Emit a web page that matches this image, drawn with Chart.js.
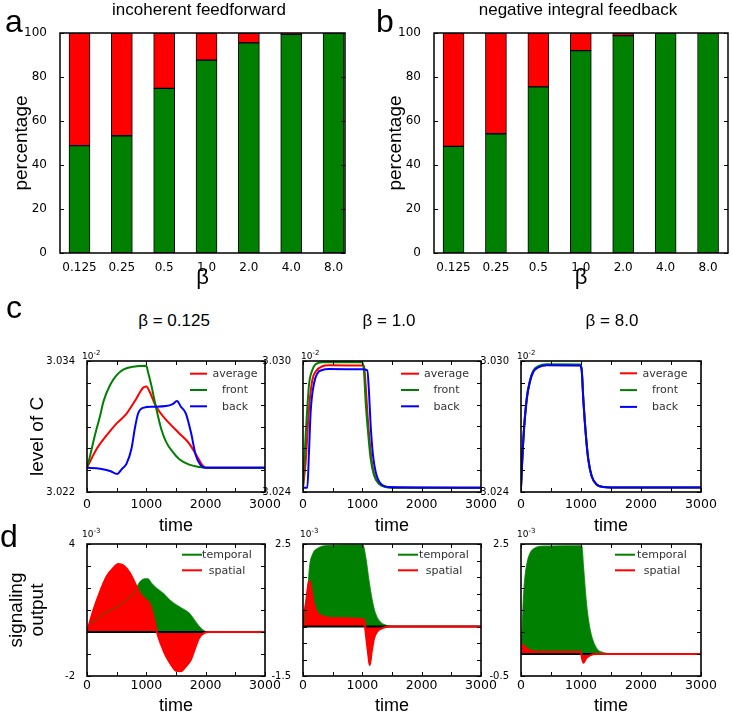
<!DOCTYPE html>
<html>
<head>
<meta charset="utf-8">
<script src="https://cdn.jsdelivr.net/npm/chart.js@4.4.0/dist/chart.umd.min.js"></script>
<style>
  body { margin: 0; background: #fff; }
  #fig { position: relative; width: 732px; height: 717px; overflow: hidden; background: #fff; }
  #fig canvas { position: absolute; }
  .txt { position: absolute; white-space: nowrap; color: #000; font-family: "Liberation Sans", Arial, sans-serif; }
</style>
</head>
<body>
<div id="fig"></div>
<script>
// ---------- panels a / b : percentage of outcomes per beta ----------
const betaLabels = ['0.125', '0.25', '0.5', '1.0', '2.0', '4.0', '8.0'];
const ffGreen = [48.8, 53.3, 74.8, 87.7, 95.5, 99.4, 100];
const ffRed   = [51.2, 46.7, 25.2, 12.3, 4.5, 0.6, 0];
const nfGreen = [48.5, 54.2, 75.5, 92.0, 98.8, 100, 100];
const nfRed   = [51.5, 45.8, 24.5, 8.0, 1.2, 0, 0];
const percentTicks = [0, 100];

// ---------- panel c : level of C (x 10^-2) ----------
const timeTickLabels = [0, 1000, 2000, 3000];
const levelRangeC1 = [3.022, 3.034];
const levelRangeC2 = [3.024, 3.030];
const levelRangeC3 = [3.024, 3.030];

// beta = 0.125
const timeC1Avg = [0, 167, 333, 500, 667, 833, 944, 1000, 1056, 1139, 1222, 1389, 1556, 1722, 1861, 1944, 2000, 3000];
const c1Avg = [3.02423, 3.02598, 3.02720, 3.02828, 3.02919, 3.03057, 3.03155, 3.03167, 3.03118, 3.03011, 3.02935, 3.02828, 3.02736, 3.02644, 3.02521, 3.02445, 3.02423, 3.02423];
const timeC1Front = [0, 56, 111, 167, 222, 278, 389, 500, 611, 778, 1000, 1028, 1083, 1167, 1250, 1333, 1444, 1556, 1722, 1889, 2000, 3000];
const c1Front = [3.02423, 3.0254, 3.0267, 3.0279, 3.0290, 3.0303, 3.0318, 3.0327, 3.0332, 3.03348, 3.03357, 3.0330, 3.0318, 3.02965, 3.0278, 3.02659, 3.02567, 3.0250, 3.02451, 3.0243, 3.02423, 3.02423];
const timeC1Back = [0, 222, 389, 511, 583, 667, 750, 806, 861, 944, 1111, 1333, 1444, 1517, 1583, 1667, 1750, 1833, 1917, 2000, 3000];
const c1Back = [3.02423, 3.02414, 3.02393, 3.02365, 3.02408, 3.02460, 3.02598, 3.02782, 3.02919, 3.02971, 3.02981, 3.02987, 3.03005, 3.03033, 3.02981, 3.02919, 3.02751, 3.02537, 3.02445, 3.02423, 3.02423];

// beta = 1.0
const timeC2Avg = [0, 45, 101, 157, 213, 326, 438, 1000, 1028, 1056, 1084, 1124, 1169, 1225, 1337, 1506, 3000];
const c2Avg = [3.02420, 3.02538, 3.02783, 3.02913, 3.02951, 3.02976, 3.02980, 3.02979, 3.02976, 3.02890, 3.02767, 3.02630, 3.02522, 3.02461, 3.02431, 3.02420, 3.02420];
const timeC2Front = [0, 45, 101, 157, 213, 326, 1000, 1028, 1056, 1101, 1140, 1197, 1281, 1393, 1506, 3000];
const c2Front = [3.02420, 3.02660, 3.02890, 3.02959, 3.02985, 3.02994, 3.02995, 3.02951, 3.02813, 3.02660, 3.02553, 3.02477, 3.02438, 3.02423, 3.02420, 3.02420];
const timeC2Back = [0, 73, 101, 129, 185, 242, 326, 438, 1000, 1084, 1112, 1140, 1180, 1225, 1309, 1449, 3000];
const c2Back = [3.02420, 3.02420, 3.02584, 3.02767, 3.02897, 3.02943, 3.02959, 3.02963, 3.02962, 3.02957, 3.02859, 3.02706, 3.02568, 3.02492, 3.02438, 3.02423, 3.02420];

// beta = 8.0
const timeC3 = [0, 39, 95, 150, 206, 289, 428, 983, 1011, 1039, 1083, 1122, 1178, 1261, 1372, 1500, 3000];
const c3Avg   = [3.02421, 3.02642, 3.02826, 3.02909, 3.02954, 3.02973, 3.02982, 3.02981, 3.02961, 3.02823, 3.02655, 3.02548, 3.02472, 3.02434, 3.02423, 3.02421, 3.02421];
const c3Front = [3.02421, 3.02645, 3.02830, 3.02912, 3.02956, 3.02976, 3.02985, 3.02984, 3.02963, 3.02825, 3.02656, 3.02549, 3.02473, 3.02434, 3.02423, 3.02421, 3.02421];
const c3Back  = [3.02421, 3.02639, 3.02822, 3.02906, 3.02951, 3.02971, 3.02980, 3.02979, 3.02959, 3.02822, 3.02654, 3.02548, 3.02472, 3.02434, 3.02423, 3.02421, 3.02421];

// ---------- panel d : signaling output (x 10^-3) ----------
const signalRangeD1 = [-2, 4];
const signalRangeD2 = [-1.5, 2.5];
const signalRangeD3 = [-0.5, 2.5];
const zeroT = [0, 3000];
const zeroV = [0, 0];

const timeD1Temporal = [0, 40, 111, 222, 333, 444, 556, 667, 778, 833, 889, 972, 1028, 1083, 1167, 1278, 1389, 1500, 1611, 1722, 1806, 1889, 1972, 2056, 3000];
const d1Temporal = [0, 0.30, 0.48, 0.71, 0.91, 1.06, 1.24, 1.47, 1.73, 2.00, 2.27, 2.42, 2.42, 2.23, 2.00, 1.77, 1.47, 1.24, 1.06, 0.86, 0.56, 0.26, 0.06, 0, 0];
const timeD1Spatial = [0, 111, 222, 333, 444, 528, 611, 722, 806, 889, 972, 1056, 1111, 1178, 1250, 1333, 1417, 1500, 1583, 1667, 1750, 1822, 1889, 1972, 2056, 3000];
const d1Spatial = [0, 1.02, 1.85, 2.53, 2.91, 3.09, 3.03, 2.68, 2.23, 1.77, 1.50, 1.27, 0.80, 0, -0.58, -1.11, -1.48, -1.76, -1.78, -1.56, -1.26, -0.73, -0.27, -0.05, 0, 0];

const timeD2Temporal = [0, 56, 111, 167, 250, 389, 1011, 1056, 1111, 1167, 1222, 1306, 1417, 1500, 3000];
const d2Temporal = [0, 0.49, 1.81, 2.21, 2.37, 2.45, 2.47, 2.11, 1.40, 0.79, 0.39, 0.13, 0.03, 0, 0];
const timeD2Spatial = [0, 45, 90, 112, 146, 185, 242, 326, 438, 1000, 1028, 1045, 1067, 1101, 1124, 1157, 1197, 1253, 1337, 1450, 3000];
const d2Spatial = [0.25, 0.66, 1.28, 1.38, 1.07, 0.66, 0.41, 0.31, 0.26, 0.23, 0.20, 0, -0.36, -0.87, -1.17, -0.77, -0.36, -0.15, -0.05, 0, 0];

const timeD3Temporal = [0, 11, 39, 67, 106, 150, 234, 373, 1013, 1041, 1085, 1124, 1180, 1263, 1374, 1500, 3000];
const d3Temporal = [0, 0.31, 1.23, 1.76, 2.10, 2.29, 2.41, 2.45, 2.46, 1.99, 1.23, 0.77, 0.39, 0.12, 0.03, 0, 0];
const timeD3Spatial = [0, 39, 95, 178, 317, 996, 1013, 1041, 1085, 1152, 1250, 3000];
const d3Spatial = [0.22, 0.20, 0.12, 0.07, 0.05, 0.05, -0.07, -0.20, -0.10, -0.03, 0, 0];

// ---------- drawing ----------
const GREEN = '#008000';
const RED = '#ff0000';
const BLUE = '#0000ff';
const TICK_FONT = '"DejaVu Sans", sans-serif';
const LABEL_FONT = '"Liberation Sans", Arial, sans-serif';

const fig = document.getElementById('fig');
const pts = (t, v) => t.map((x, i) => ({ x, y: v[i] }));

function addCanvas(box) {
    const c = document.createElement('canvas');
    c.width = box.w;
    c.height = box.h;
    c.style.left = box.x + 'px';
    c.style.top = box.y + 'px';
    fig.appendChild(c);
    return c;
}

function addText(html, x, base, size, opts = {}) {
    const d = document.createElement('div');
    d.className = 'txt';
    d.innerHTML = html;
    d.style.fontSize = size + 'px';
    d.style.lineHeight = size + 'px';
    d.style.left = x + 'px';
    d.style.top = Math.round(base - 0.85 * size) + 'px';
    if (opts.center) d.style.transform = 'translateX(-50%)';
    if (opts.family) d.style.fontFamily = opts.family;
    fig.appendChild(d);
    return d;
}

// frame + inward tick marks, matplotlib style
const framePlugin = {
    id: 'frame',
    afterDatasetsDraw(chart, args, opts) {
        const { ctx, chartArea: a, scales } = chart;
        const len = opts.tickLen || 4;
        ctx.save();
        ctx.strokeStyle = '#000';
        ctx.lineWidth = 1;
        ctx.beginPath();
        if (opts.xTicks) {
            scales.x.ticks.forEach(t => {
                const px = Math.round(scales.x.getPixelForValue(t.value)) + 0.5;
                ctx.moveTo(px, a.bottom); ctx.lineTo(px, a.bottom - len);
                ctx.moveTo(px, a.top); ctx.lineTo(px, a.top + len);
            });
        }
        scales.y.ticks.forEach(t => {
            const py = Math.round(scales.y.getPixelForValue(t.value)) + 0.5;
            ctx.moveTo(a.left, py); ctx.lineTo(a.left + len, py);
            ctx.moveTo(a.right, py); ctx.lineTo(a.right - len, py);
        });
        ctx.stroke();
        ctx.lineWidth = opts.frameWidth || 1.5;
        ctx.strokeRect(a.left, a.top, a.right - a.left, a.bottom - a.top);
        ctx.restore();
    }
};

// legend drawn inside the plot, no box
const innerLegend = {
    id: 'innerLegend',
    afterDraw(chart, args, opts) {
        if (!opts.items) return;
        const { ctx, chartArea: a } = chart;
        ctx.save();
        ctx.font = '11px ' + TICK_FONT;
        ctx.textAlign = 'center';
        ctx.textBaseline = 'middle';
        opts.items.forEach((it, i) => {
            const y = a.top + opts.top + i * opts.gap;
            ctx.strokeStyle = it.color;
            ctx.lineWidth = 2;
            ctx.beginPath();
            ctx.moveTo(a.right - opts.lineFrom, y);
            ctx.lineTo(a.right - opts.lineTo, y);
            ctx.stroke();
            ctx.fillStyle = '#333';
            ctx.fillText(it.label, a.right - opts.textAt, y + 0.5);
        });
        ctx.restore();
    }
};

function baseOptions(box, plot) {
    return {
        responsive: false,
        animation: false,
        devicePixelRatio: 1,
        events: [],
        layout: {
            autoPadding: false,
            padding: { left: 0, top: plot.t - box.y, right: box.x + box.w - plot.r, bottom: 0 }
        },
        plugins: { legend: { display: false }, tooltip: { enabled: false } }
    };
}

function barChart(box, plot, green, red, xRange, yTitlePad) {
    const opts = baseOptions(box, plot);
    opts.plugins.frame = { xTicks: false, tickLen: 4 };
    opts.scales = {
        x: {
            type: 'linear', min: xRange[0], max: xRange[1], offset: false, stacked: true,
            afterFit: s => { s.height = box.y + box.h - plot.b; },
            afterBuildTicks: s => { s.ticks = betaLabels.map((_, i) => ({ value: i })); },
            grid: { display: false }, border: { display: false },
            ticks: {
                autoSkip: false, maxRotation: 0, padding: 0, color: '#000',
                font: { family: TICK_FONT, size: 12 },
                callback: v => betaLabels[v]
            },
            title: { display: true, text: 'β', color: '#000', font: { family: LABEL_FONT, size: 22 }, padding: { top: 0, bottom: -1 } }
        },
        y: {
            min: percentTicks[0], max: percentTicks[1], stacked: true,
            afterFit: s => { s.width = plot.l - box.x; },
            grid: { display: false }, border: { display: false },
            ticks: { stepSize: 20, padding: 5, color: '#000', font: { family: TICK_FONT, size: 12 } },
            title: { display: true, text: 'percentage', color: '#000', font: { family: LABEL_FONT, size: 19 }, padding: { top: yTitlePad, bottom: 0 } }
        }
    };
    const bar = (vals, color) => ({
        data: vals.map((v, i) => ({ x: i, y: v })),
        backgroundColor: color, borderColor: '#000', borderWidth: 1,
        borderSkipped: false, barThickness: 21
    });
    new Chart(addCanvas(box), {
        type: 'bar',
        data: { datasets: [bar(green, GREEN), bar(red, RED)] },
        options: opts,
        plugins: [framePlugin]
    });
}

function timeAxis(box, plot, pad) {
    return {
        type: 'linear', min: 0, max: 3000,
        afterFit: s => { s.height = box.y + box.h - plot.b; },
        grid: { display: false }, border: { display: false },
        ticks: {
            stepSize: 500, autoSkip: false, maxRotation: 0, padding: pad, color: '#000',
            font: { family: TICK_FONT, size: 12.5 },
            callback: v => timeTickLabels.includes(v) ? String(v) : ''
        },
        title: { display: true, text: 'time', color: '#000', font: { family: LABEL_FONT, size: 18 }, padding: { top: 0, bottom: 0 } }
    };
}

function valueAxis(box, plot, range, step, fmt, title) {
    return {
        type: 'linear', min: range[0], max: range[1],
        afterFit: s => { s.width = plot.l - box.x; },
        grid: { display: false }, border: { display: false },
        ticks: {
            stepSize: step, autoSkip: false, padding: 4, color: '#000',
            font: { family: TICK_FONT, size: 10 },
            callback: (v, i, ticks) => (i === 0 || i === ticks.length - 1) ? fmt(v) : ''
        },
        title: title || { display: false }
    };
}

function levelChart(box, plot, series, range, step, legend) {
    const opts = baseOptions(box, plot);
    opts.plugins.frame = { xTicks: true, tickLen: 4, frameWidth: 1.6 };
    opts.plugins.innerLegend = legend;
    opts.scales = {
        x: timeAxis(box, plot, -3),
        y: valueAxis(box, plot, range, step, v => v.toFixed(3))
    };
    const datasets = series.map((s, k) => ({
        data: pts(s.t, s.v), borderColor: s.color, borderWidth: 2,
        pointRadius: 0, cubicInterpolationMode: 'monotone', fill: false, order: 3 - k
    }));
    new Chart(addCanvas(box), { type: 'line', data: { datasets }, options: opts, plugins: [framePlugin, innerLegend] });
}

function signalChart(box, plot, temporal, spatial, range, step, legend, yTitle) {
    const opts = baseOptions(box, plot);
    opts.plugins.frame = { xTicks: true, tickLen: 4, frameWidth: 1.6 };
    opts.plugins.innerLegend = legend;
    opts.scales = {
        x: timeAxis(box, plot, -6),
        y: valueAxis(box, plot, range, step, v => String(v), yTitle)
    };
    const common = { pointRadius: 0, cubicInterpolationMode: 'monotone' };
    const datasets = [
        { ...common, data: pts(spatial.t, spatial.v), borderColor: RED, borderWidth: 2, fill: false, order: 1 },
        { ...common, data: pts(zeroT, zeroV), borderColor: '#000', borderWidth: 2, fill: false, order: 2 },
        { ...common, data: pts(temporal.t, temporal.v), borderColor: 'rgba(0,128,0,0.55)', borderWidth: 1.2, fill: false, order: 3 },
        { ...common, data: pts(spatial.t, spatial.v), borderColor: RED, borderWidth: 0.5, backgroundColor: RED, fill: 'origin', order: 4 },
        { ...common, data: pts(temporal.t, temporal.v), borderColor: GREEN, borderWidth: 0.5, backgroundColor: GREEN, fill: 'origin', order: 5 }
    ];
    new Chart(addCanvas(box), { type: 'line', data: { datasets }, options: opts, plugins: [framePlugin, innerLegend] });
}

// panels a, b
barChart({ x: 0, y: 0, w: 352, h: 290 }, { l: 60, t: 33, r: 345, b: 253 }, ffGreen, ffRed, [-0.46, 6.27], 10.5);
barChart({ x: 366, y: 0, w: 366, h: 290 }, { l: 434, t: 33, r: 728, b: 253 }, nfGreen, nfRed, [-0.46, 6.47], 18.6);

// panel c
const cItems = [{ label: 'average', color: RED }, { label: 'front', color: GREEN }, { label: 'back', color: BLUE }];
levelChart({ x: 0, y: 345, w: 292, h: 192 }, { l: 87, t: 361, r: 265, b: 492 },
    [{ t: timeC1Avg, v: c1Avg, color: RED }, { t: timeC1Front, v: c1Front, color: GREEN }, { t: timeC1Back, v: c1Back, color: BLUE }],
    levelRangeC1, 0.002, { items: cItems, top: 12.7, gap: 16.3, lineFrom: 75, lineTo: 58, textAt: 30 });
levelChart({ x: 255, y: 345, w: 250, h: 192 }, { l: 303, t: 361, r: 481, b: 492 },
    [{ t: timeC2Avg, v: c2Avg, color: RED }, { t: timeC2Front, v: c2Front, color: GREEN }, { t: timeC2Back, v: c2Back, color: BLUE }],
    levelRangeC2, 0.001, { items: cItems, top: 12.7, gap: 16.3, lineFrom: 80, lineTo: 62, textAt: 34.5 });
levelChart({ x: 480, y: 345, w: 252, h: 192 }, { l: 521, t: 361, r: 701, b: 492 },
    [{ t: timeC3, v: c3Avg, color: RED }, { t: timeC3, v: c3Front, color: GREEN }, { t: timeC3, v: c3Back, color: BLUE }],
    levelRangeC3, 0.001, { items: cItems, top: 12.3, gap: 16.8, lineFrom: 81, lineTo: 64, textAt: 36 });

// panel d
const dItems = [{ label: 'temporal', color: GREEN }, { label: 'spatial', color: RED }];
signalChart({ x: 0, y: 530, w: 292, h: 187 }, { l: 87, t: 544, r: 265, b: 676 },
    { t: timeD1Temporal, v: d1Temporal }, { t: timeD1Spatial, v: d1Spatial }, signalRangeD1, 1,
    { items: dItems, top: 10.7, gap: 15.6, lineFrom: 83, lineTo: 63, textAt: 38 },
    { display: true, text: ['signaling', 'output'], color: '#000', font: { family: LABEL_FONT, size: 19, lineHeight: 1.1 }, padding: { top: 6.5, bottom: 0 } });
signalChart({ x: 255, y: 530, w: 250, h: 187 }, { l: 303, t: 544, r: 481, b: 676 },
    { t: timeD2Temporal, v: d2Temporal }, { t: timeD2Spatial, v: d2Spatial }, signalRangeD2, 0.5,
    { items: dItems, top: 10.7, gap: 15.6, lineFrom: 83, lineTo: 63, textAt: 37 });
signalChart({ x: 480, y: 530, w: 252, h: 187 }, { l: 521, t: 544, r: 701, b: 676 },
    { t: timeD3Temporal, v: d3Temporal }, { t: timeD3Spatial, v: d3Spatial }, signalRangeD3, 0.5,
    { items: dItems, top: 10.7, gap: 15.6, lineFrom: 86, lineTo: 66, textAt: 39 });

// ---------- text annotations ----------
addText('a', 5, 32, 32);
addText('b', 376, 32, 32);
addText('c', 6, 318, 32);
addText('d', 0, 547, 32);
addText('incoherent feedforward', 199, 15, 17, { center: true });
addText('negative integral feedback', 578, 15, 17, { center: true });
addText('β = 0.125', 174, 326, 17, { center: true });
addText('β = 1.0', 389, 326, 17, { center: true });
addText('β = 8.0', 612, 326, 17, { center: true });

const sup = s => '10<span style="font-size:7px;position:relative;top:-4px">' + s + '</span>';
[[82, 360, '-2'], [301, 360, '-2'], [517, 360, '-2'], [82, 538, '-3'], [300, 538, '-3'], [517, 538, '-3']]
    .forEach(([x, y, s]) => addText(sup(s), x, y, 9, { family: '"DejaVu Sans", sans-serif' }));

// rotated y label of panel c, centred on (37, 436)
const lvl = document.createElement('div');
lvl.className = 'txt';
lvl.textContent = 'level of C';
Object.assign(lvl.style, {
    fontSize: '19px', lineHeight: '20px', writingMode: 'vertical-rl', transform: 'rotate(180deg)',
    height: '120px', textAlign: 'center', left: '27px', top: '376px'
});
fig.appendChild(lvl);
</script>
</body>
</html>
